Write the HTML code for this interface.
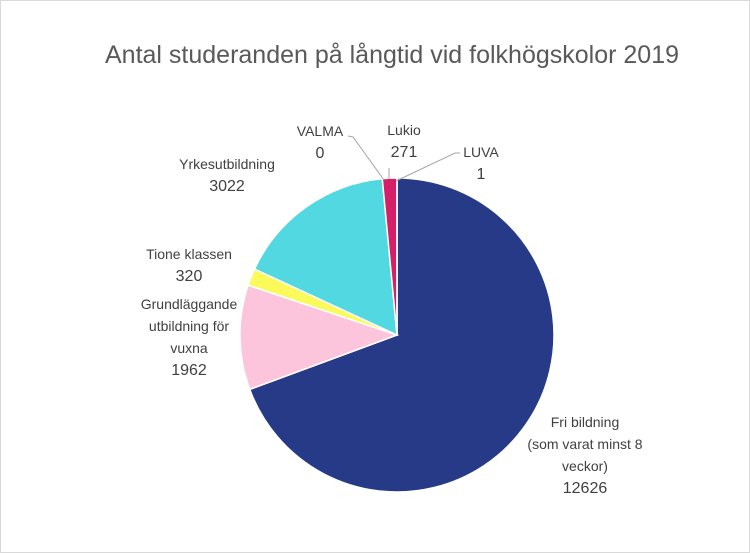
<!DOCTYPE html>
<html><head><meta charset="utf-8"><style>
body{margin:0;background:#fff}
#frame{position:absolute;left:0;top:0;width:748px;height:551px;border:1px solid #d9d9d9;background:#fff}
svg{position:absolute;left:0;top:0}
text{font-family:"Liberation Sans",sans-serif;fill:#404040}
</style></head><body>
<div id="frame"></div>
<svg width="750" height="553">
<text x="392" y="63" text-anchor="middle" font-size="25" style="fill:#595959">Antal studeranden på långtid vid folkhögskolor 2019</text>
<g id="slices"></g>
<g id="leaders" stroke="#a6a6a6" stroke-width="1" fill="none">
<polyline points="348,136 353,137 384,180"/>
<line x1="389" y1="168" x2="389" y2="179"/>
<polyline points="396,181 455,153 460,153"/>
</g>
<g id="labels" font-size="14"></g>
</svg>
<script>
const categories=["Fri bildning","Grundläggande utbildning för vuxna","Tione klassen","Yrkesutbildning","VALMA","Lukio","LUVA"];
const values=[12626,1962,320,3022,0,271,1];
const colors=["#263a87","#fcc5dc","#fafa5a","#52d8e0","#888888","#d61f69","#1f3a8a"];
const labelLines=[["Fri bildning","(som varat minst 8","veckor)","12626"],["Grundläggande","utbildning för","vuxna","1962"],["Tione klassen","320"],["Yrkesutbildning","3022"],["VALMA","0"],["Lukio","271"],["LUVA","1"]];
const labelPos=[[585,427],[189,309],[189,259],[227,169],[320,136],[404,135],[481,157]];
const cx=397,cy=335,r=157;
const total=values.reduce((a,b)=>a+b,0);
const NS="http://www.w3.org/2000/svg";
const g=document.getElementById('slices');
let a=0;
function pt(ang){return [cx+r*Math.sin(ang),cy-r*Math.cos(ang)];}
values.forEach((v,i)=>{
  const s=a, e=a+v/total*2*Math.PI; a=e;
  if(v<=0) return;
  const p1=pt(s),p2=pt(e);
  const large=(e-s)>Math.PI?1:0;
  const p=document.createElementNS(NS,'path');
  p.setAttribute('d',`M${cx},${cy}L${p1[0]},${p1[1]}A${r},${r} 0 ${large} 1 ${p2[0]},${p2[1]}Z`);
  p.setAttribute('fill',colors[i]);
  p.setAttribute('stroke','#fff');
  p.setAttribute('stroke-width','1.5');
  
  
  g.appendChild(p);
});
const lg=document.getElementById('labels');
labelLines.forEach((lines,i)=>{
  const t=document.createElementNS(NS,'text');
  t.setAttribute('text-anchor','middle');
  
  
  lines.forEach((ln,j)=>{
    const ts=document.createElementNS(NS,'tspan');
    ts.setAttribute('x',labelPos[i][0]);
    ts.setAttribute('y',labelPos[i][1]+j*22);
    ts.setAttribute('font-size',j===lines.length-1?'16':'14');
    ts.textContent=ln;
    t.appendChild(ts);
  });
  lg.appendChild(t);
});
</script>
</body></html>
